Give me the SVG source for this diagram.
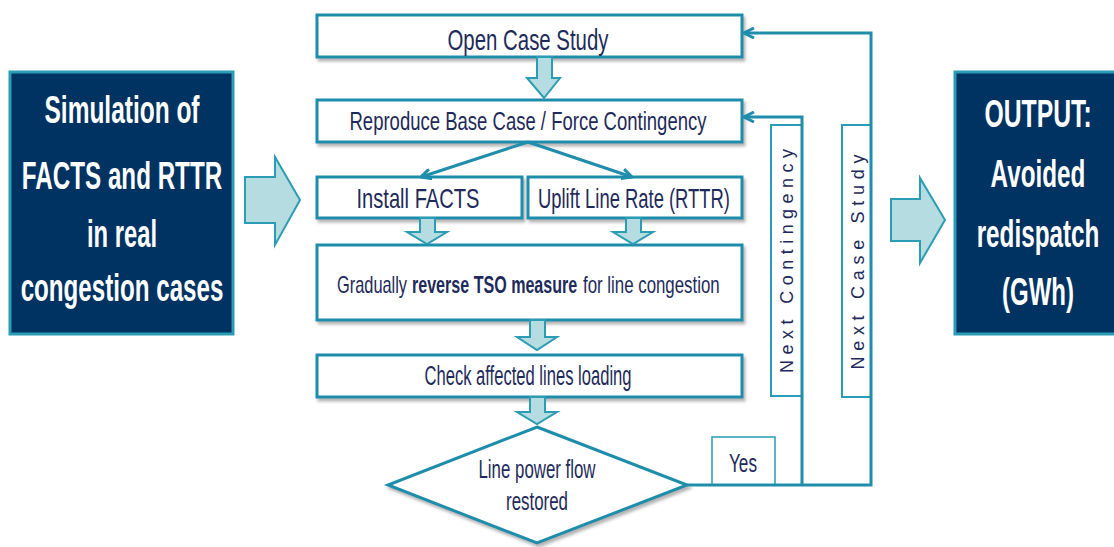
<svg xmlns="http://www.w3.org/2000/svg" width="1114" height="547" viewBox="0 0 1114 547">
<defs>
<filter id="sh" x="-10%" y="-10%" width="120%" height="140%">
<feDropShadow dx="2" dy="3" stdDeviation="1.5" flood-color="#777" flood-opacity="0.55"/>
</filter>
<marker id="vh" viewBox="0 0 12 12" refX="11" refY="6" markerWidth="12" markerHeight="12" markerUnits="userSpaceOnUse" orient="auto">
<path d="M1,1 L11,6 L1,11" fill="none" stroke="#1f8dab" stroke-width="3"/>
</marker>
<style>
.box{fill:#fff;stroke:#1f8dab;stroke-width:3;filter:url(#sh)}
.dark{fill:#003262;stroke:#2a9cb5;stroke-width:3}
.blk{fill:#b5dde1;stroke:#2b9cb3;stroke-width:2}
.ln{fill:none;stroke:#1f8dab;stroke-width:3}
.t{font-family:"Liberation Sans",Arial,sans-serif;fill:#1e2a5a;text-anchor:middle}
.s{font-family:"Liberation Sans",Arial,sans-serif;fill:#1e2a5a;text-anchor:start;font-size:24px}
.w{font-family:"Liberation Sans",Arial,sans-serif;fill:#fff;font-weight:bold;text-anchor:middle;font-size:39px}
.v{font-family:"Liberation Sans",Arial,sans-serif;fill:#1e2a5a;text-anchor:middle;font-size:18px}
</style>
</defs>

<g id="input">
<rect class="dark" x="10" y="72" width="223" height="262"/>
<text class="w" transform="translate(122,123) scale(0.62,1)" textLength="250" lengthAdjust="spacingAndGlyphs">Simulation of</text>
<text class="w" transform="translate(122,189) scale(0.62,1)" textLength="323" lengthAdjust="spacingAndGlyphs">FACTS and RTTR</text>
<text class="w" transform="translate(122,247) scale(0.62,1)" textLength="113" lengthAdjust="spacingAndGlyphs">in real</text>
<text class="w" transform="translate(122,301) scale(0.62,1)" textLength="327" lengthAdjust="spacingAndGlyphs">congestion cases</text>
</g>

<g id="arrow-in">
<path class="blk" d="M245,177 H275 V157 L300,200 L275,245 V223 H245 Z"/>
</g>

<g id="open-case">
<rect class="box" x="317" y="15" width="425" height="42"/>
<text class="t" x="528" y="50" font-size="30" textLength="161" lengthAdjust="spacingAndGlyphs">Open Case Study</text>
</g>

<g id="reproduce">
<rect class="box" x="317" y="100" width="425" height="42"/>
<text class="t" x="528" y="130" font-size="25" textLength="357" lengthAdjust="spacingAndGlyphs">Reproduce Base Case / Force Contingency</text>
</g>

<g id="install-facts">
<rect class="box" x="317" y="177" width="205" height="41"/>
<text class="t" x="418" y="208" font-size="28" textLength="123" lengthAdjust="spacingAndGlyphs">Install FACTS</text>
</g>

<g id="uplift">
<rect class="box" x="528" y="177" width="214" height="41"/>
<text class="t" x="634" y="208" font-size="27" textLength="192" lengthAdjust="spacingAndGlyphs">Uplift Line Rate (RTTR)</text>
</g>

<g id="gradually">
<rect class="box" x="317" y="245" width="425" height="75"/>
<text class="s" transform="translate(337,293) scale(0.68,1)" textLength="103" lengthAdjust="spacingAndGlyphs">Gradually</text>
<text class="s" transform="translate(412,293) scale(0.68,1)" font-weight="bold" textLength="243" lengthAdjust="spacingAndGlyphs">reverse TSO measure</text>
<text class="s" transform="translate(583,293) scale(0.68,1)" textLength="201" lengthAdjust="spacingAndGlyphs">for line congestion</text>
</g>

<g id="check">
<rect class="box" x="317" y="355" width="425" height="42"/>
<text class="t" x="528" y="385" font-size="27" textLength="207" lengthAdjust="spacingAndGlyphs">Check affected lines loading</text>
</g>

<g id="decision">
<path class="box" d="M537,427 L687,485 L537,543 L388,485 Z"/>
<text class="t" x="537" y="478" font-size="25" textLength="117" lengthAdjust="spacingAndGlyphs">Line power flow</text>
<text class="t" x="537" y="510" font-size="25" textLength="62" lengthAdjust="spacingAndGlyphs">restored</text>
</g>

<g id="yes-label">
<rect x="712" y="437" width="63" height="48" fill="#fff" stroke="#2a9cb5" stroke-width="1.5"/>
<text class="t" x="743" y="472" font-size="25" textLength="28" lengthAdjust="spacingAndGlyphs">Yes</text>
</g>

<g id="next-contingency">
<rect x="771" y="125" width="31" height="271" fill="#fff" stroke="#2a9cb5" stroke-width="2"/>
<text class="v" transform="translate(793,261) rotate(-90)" textLength="224" lengthAdjust="spacing">Next Contingency</text>
</g>

<g id="next-case-study">
<rect x="842" y="125" width="29" height="272" fill="#fff" stroke="#2a9cb5" stroke-width="2"/>
<text class="v" transform="translate(864,262) rotate(-90)" textLength="215" lengthAdjust="spacing">Next Case Study</text>
</g>

<g id="arrow-out">
<path class="blk" d="M891,199 H920 V178 L945,220 L920,263 V241 H891 Z"/>
</g>

<g id="output">
<rect class="dark" x="955" y="72" width="165" height="262"/>
<text class="w" transform="translate(1038,127) scale(0.62,1)" textLength="173" lengthAdjust="spacingAndGlyphs">OUTPUT:</text>
<text class="w" transform="translate(1038,187) scale(0.62,1)" textLength="153" lengthAdjust="spacingAndGlyphs">Avoided</text>
<text class="w" transform="translate(1038,247) scale(0.62,1)" textLength="198" lengthAdjust="spacingAndGlyphs">redispatch</text>
<text class="w" transform="translate(1038,305) scale(0.62,1)" textLength="116" lengthAdjust="spacingAndGlyphs">(GWh)</text>
</g>

<g id="connectors">
<path class="blk" d="M537,57 H552 V78 H560 L544,98 L527,78 H537 Z"/>
<path class="blk" d="M420,218 H435 V232 H447 L427,244 L407,232 H420 Z"/>
<path class="blk" d="M626,218 H641 V232 H653 L633,244 L613,232 H626 Z"/>
<path class="blk" d="M530,320 H545 V337 H557 L537,350 L517,337 H530 Z"/>
<path class="blk" d="M530,397 H545 V412 H557 L537,424 L517,412 H530 Z"/>
<path class="ln" d="M528,142 L421,177" marker-end="url(#vh)"/>
<path class="ln" d="M528,142 L632,177" marker-end="url(#vh)"/>
<path class="ln" d="M687,485 H871 V33 H744" marker-end="url(#vh)"/>
<path class="ln" d="M802,485 V117 H744" marker-end="url(#vh)"/>
</g>
</svg>
